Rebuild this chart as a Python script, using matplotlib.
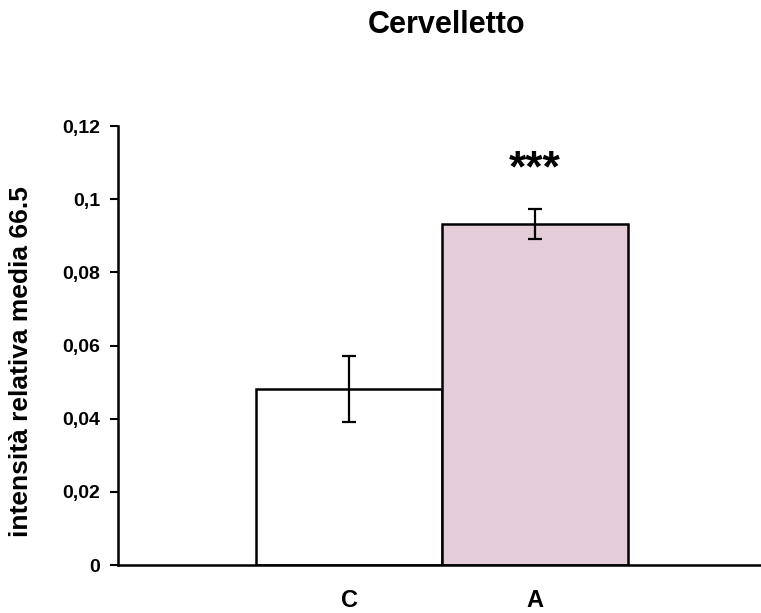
import matplotlib
matplotlib.use("Agg")
import matplotlib.pyplot as plt

categories = ["C", "A"]
values = [0.0481, 0.0933]
errors = [0.0091, 0.0041]
colors = ["#FFFFFF", "#E5CCD9"]
yticks = [0, 0.02, 0.04, 0.06, 0.08, 0.1, 0.12]
ytick_labels = ["0", "0,02", "0,04", "0,06", "0,08", "0,1", "0,12"]
significance = ["", "***"]

plt.rcParams['font.family'] = ['Liberation Sans', 'DejaVu Sans']

fig = plt.figure(figsize=(7.61, 6.13), dpi=100)
ax = fig.add_axes([118/761, 1-565/613, 1-118/761, (565-126)/613])

x = list(range(len(categories)))
ax.bar(x, values, width=1.0, color=colors, edgecolor="black", linewidth=1.8, zorder=2)
ax.errorbar(x, values, yerr=errors, fmt="none", ecolor="black", elinewidth=1.6,
            capsize=5, capthick=1.6, zorder=3)
for xi, v, e, s in zip(x, values, errors, significance):
    if s:
        ax.text(xi, 0.1048, s, ha="center", va="baseline", fontsize=32, fontweight="bold")

ax.set_xlim(-1.242, 2.215)
ax.set_ylim(0, 0.12)
ax.set_yticks(yticks)
ax.set_yticklabels(ytick_labels, fontsize=14, fontweight="bold")
ax.set_xticks(x)
ax.set_xticklabels(categories, fontsize=17, fontweight="bold")
ax.tick_params(axis="x", length=0, pad=17)
ax.tick_params(axis="y", length=6, width=1.5, direction="out", pad=7)
for side in ["top", "right"]:
    ax.spines[side].set_visible(False)
for side in ["left", "bottom"]:
    ax.spines[side].set_linewidth(1.8)

ax.set_ylabel("intensità relativa media 66.5", fontsize=19, fontweight="bold")
ax.yaxis.set_label_coords((33 - 118) / (761 - 118), (565 - 362) / (565 - 126))
fig.text(447/761, 1-33/613, "Cervelletto", ha="center", va="baseline", fontsize=22, fontweight="bold")

fig.savefig("out.png", dpi=100)
